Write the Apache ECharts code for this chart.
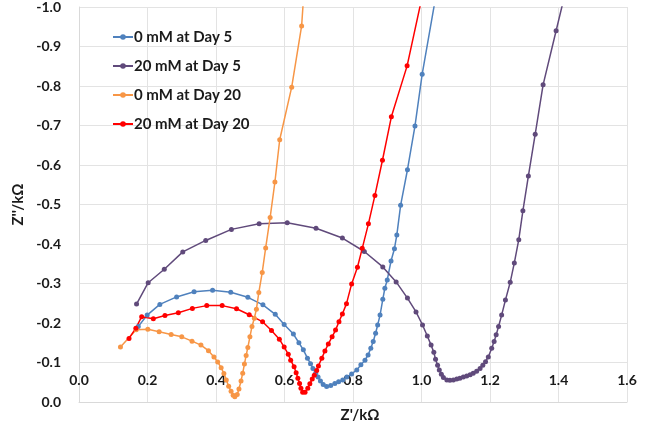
<!DOCTYPE html>
<html>
<head>
<meta charset="utf-8">
<script src="https://cdn.jsdelivr.net/npm/echarts@6/dist/echarts.min.js"></script>
<style>
  html, body { margin: 0; padding: 0; background: #fff; }
  #main { width: 657px; height: 429px; }
</style>
</head>
<body>
<div id="main"></div>
<script>
// 读图得到的数据 (Z' / kΩ, Z'' / kΩ)
var names = ['0 mM at Day 5', '20 mM at Day 5', '0 mM at Day 20', '20 mM at Day 20'];
var colors = ['#4F81BD', '#604A7B', '#F79646', '#FF0000'];

var d5_0mM_x = [0.173, 0.199, 0.236, 0.285, 0.336, 0.390, 0.443, 0.493, 0.537, 0.573, 0.599, 0.626, 0.642, 0.655, 0.667, 0.676, 0.683, 0.691, 0.698, 0.705, 0.713, 0.723, 0.735, 0.747, 0.758, 0.770, 0.782, 0.796, 0.811, 0.823, 0.835, 0.844, 0.852, 0.859, 0.866, 0.872, 0.879, 0.887, 0.893, 0.900, 0.911, 0.921, 0.928, 0.939, 0.959, 0.981, 1.002, 1.045];
var d5_0mM_y = [-0.191, -0.220, -0.247, -0.266, -0.279, -0.283, -0.278, -0.265, -0.246, -0.222, -0.196, -0.172, -0.150, -0.132, -0.111, -0.097, -0.085, -0.073, -0.063, -0.053, -0.044, -0.039, -0.042, -0.047, -0.051, -0.056, -0.063, -0.071, -0.081, -0.094, -0.106, -0.119, -0.136, -0.153, -0.174, -0.195, -0.220, -0.260, -0.288, -0.309, -0.357, -0.388, -0.423, -0.498, -0.588, -0.699, -0.830, -1.043];

var d5_20mM_x = [0.168, 0.202, 0.249, 0.303, 0.370, 0.445, 0.526, 0.608, 0.692, 0.769, 0.833, 0.887, 0.926, 0.959, 0.984, 1.003, 1.017, 1.028, 1.036, 1.041, 1.047, 1.052, 1.058, 1.064, 1.074, 1.083, 1.093, 1.103, 1.112, 1.122, 1.132, 1.142, 1.151, 1.161, 1.171, 1.179, 1.187, 1.195, 1.205, 1.212, 1.218, 1.225, 1.234, 1.245, 1.259, 1.271, 1.284, 1.296, 1.312, 1.332, 1.355, 1.393, 1.436];
var d5_20mM_y = [-0.248, -0.302, -0.336, -0.380, -0.409, -0.437, -0.451, -0.454, -0.440, -0.415, -0.381, -0.342, -0.304, -0.263, -0.228, -0.195, -0.167, -0.144, -0.126, -0.108, -0.093, -0.081, -0.070, -0.062, -0.056, -0.055, -0.056, -0.058, -0.060, -0.063, -0.066, -0.069, -0.073, -0.078, -0.085, -0.093, -0.102, -0.114, -0.136, -0.153, -0.170, -0.191, -0.220, -0.258, -0.303, -0.352, -0.411, -0.484, -0.572, -0.678, -0.803, -0.940, -1.094];

var d20_0mM_x = [0.121, 0.167, 0.201, 0.234, 0.269, 0.300, 0.330, 0.356, 0.378, 0.394, 0.405, 0.415, 0.423, 0.430, 0.437, 0.444, 0.450, 0.455, 0.462, 0.467, 0.473, 0.478, 0.483, 0.488, 0.493, 0.499, 0.505, 0.512, 0.518, 0.525, 0.535, 0.545, 0.558, 0.572, 0.586, 0.621, 0.650, 0.667];
var d20_0mM_y = [-0.139, -0.183, -0.184, -0.178, -0.171, -0.165, -0.154, -0.144, -0.130, -0.114, -0.101, -0.087, -0.072, -0.056, -0.040, -0.027, -0.017, -0.013, -0.019, -0.033, -0.053, -0.073, -0.096, -0.118, -0.138, -0.165, -0.191, -0.212, -0.235, -0.277, -0.328, -0.390, -0.467, -0.557, -0.664, -0.797, -0.952, -1.170];

var d20_20mM_x = [0.146, 0.166, 0.183, 0.217, 0.251, 0.290, 0.331, 0.373, 0.418, 0.460, 0.497, 0.536, 0.562, 0.585, 0.599, 0.611, 0.618, 0.628, 0.634, 0.639, 0.644, 0.648, 0.653, 0.660, 0.668, 0.674, 0.681, 0.687, 0.694, 0.699, 0.709, 0.718, 0.728, 0.739, 0.749, 0.759, 0.769, 0.781, 0.796, 0.813, 0.827, 0.845, 0.864, 0.886, 0.912, 0.958, 1.006];
var d20_20mM_y = [-0.161, -0.187, -0.216, -0.211, -0.219, -0.226, -0.237, -0.244, -0.244, -0.236, -0.221, -0.203, -0.181, -0.159, -0.139, -0.121, -0.106, -0.089, -0.074, -0.060, -0.047, -0.035, -0.025, -0.025, -0.035, -0.046, -0.058, -0.068, -0.080, -0.091, -0.111, -0.129, -0.147, -0.165, -0.182, -0.203, -0.223, -0.249, -0.299, -0.341, -0.389, -0.451, -0.523, -0.612, -0.722, -0.851, -1.043];

var xTicks = [0, 0.2, 0.4, 0.6, 0.8, 1.0, 1.2, 1.4, 1.6];

function zip(xs, ys) {
  return xs.map(function (x, i) { return [x, ys[i]]; });
}

var allX = [d5_0mM_x, d5_20mM_x, d20_0mM_x, d20_20mM_x];
var allY = [d5_0mM_y, d5_20mM_y, d20_0mM_y, d20_20mM_y];

var font = 'Lato, "Liberation Sans", sans-serif';
var myChart = echarts.init(document.getElementById('main'));

var option = {
  animation: false,
  color: colors,
  grid: { left: 79, right: 30, top: 7, bottom: 27, containLabel: false },
  legend: {
    orient: 'vertical',
    left: 107,
    top: 24,
    itemGap: 13,
    itemWidth: 20,
    itemHeight: 7,
    data: names,
    textStyle: { fontFamily: font, fontSize: 15, fontWeight: 'bold', color: '#1a1a1a', lineHeight: 16, padding: [0, 0, 0, -4] }
  },
  xAxis: {
    type: 'value',
    min: xTicks[0],
    max: xTicks[xTicks.length - 1],
    interval: 0.2,
    name: "Z'/kΩ",
    nameLocation: 'middle',
    nameGap: 2,
    nameTextStyle: { fontFamily: font, fontSize: 15, fontWeight: 'bold', color: '#1a1a1a', padding: [0, 0, 0, 14] },
    axisLine: { onZero: false, lineStyle: { color: '#d9d9d9' } },
    axisTick: { show: false },
    axisLabel: {
      margin: -29,
      fontFamily: font, fontSize: 14, fontWeight: 'bold', color: '#1a1a1a',
      formatter: function (v) { return v.toFixed(1); }
    },
    splitLine: { show: true, lineStyle: { color: '#e3e3e3' } }
  },
  yAxis: {
    type: 'value',
    inverse: true,
    min: -1,
    max: 0,
    interval: 0.1,
    name: "Z''/kΩ",
    nameLocation: 'middle',
    nameGap: 52,
    nameTextStyle: { fontFamily: font, fontSize: 15, fontWeight: 'bold', color: '#1a1a1a' },
    axisLine: { show: true, lineStyle: { color: '#d9d9d9' } },
    axisTick: { show: false },
    axisLabel: {
      margin: 18,
      fontFamily: font, fontSize: 14, fontWeight: 'bold', color: '#1a1a1a',
      formatter: function (v) { return v.toFixed(1); }
    },
    splitLine: { show: true, lineStyle: { color: '#e3e3e3' } }
  },
  series: names.map(function (n, i) {
    return {
      name: n,
      type: 'line',
      data: zip(allX[i], allY[i]),
      symbol: 'circle',
      symbolSize: 5,
      showSymbol: true,
      clip: true,
      lineStyle: { width: 1.5, color: colors[i] },
      itemStyle: { color: colors[i] }
    };
  })
};

myChart.setOption(option);
</script>
</body>
</html>
